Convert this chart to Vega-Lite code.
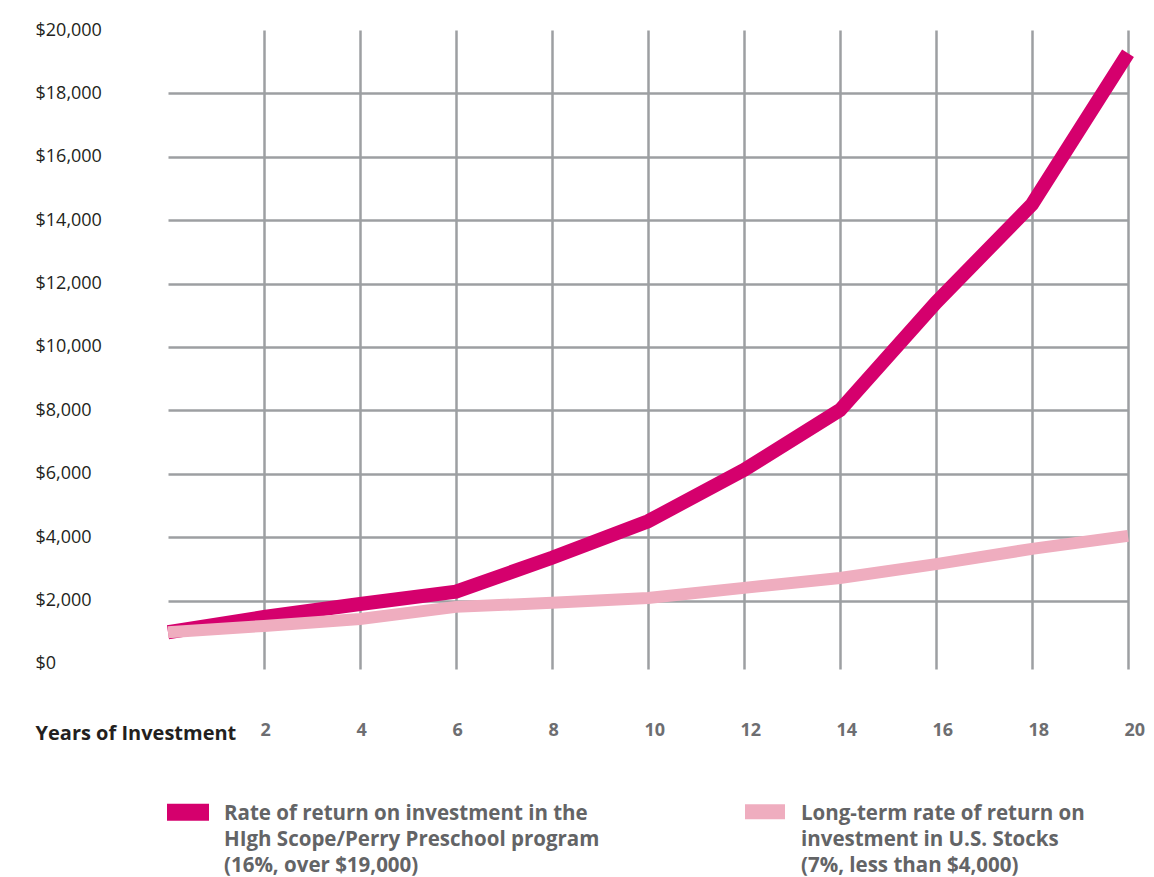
{
  "$schema": "https://vega.github.io/schema/vega-lite/v6.json",
  "autosize": "none",
  "padding": {"left": 168, "top": 30, "right": 26, "bottom": 208},
  "width": 960,
  "height": 639,
  "background": "white",
  "config": {"view": {"stroke": null}, "font": "Open Sans"},
  "data": {"values": [
    {"year": 0, "value": 1000, "series": "program"},
    {"year": 2, "value": 1480, "series": "program"},
    {"year": 4, "value": 1890, "series": "program"},
    {"year": 6, "value": 2280, "series": "program"},
    {"year": 8, "value": 3350, "series": "program"},
    {"year": 10, "value": 4500, "series": "program"},
    {"year": 12, "value": 6120, "series": "program"},
    {"year": 14, "value": 8010, "series": "program"},
    {"year": 16, "value": 11400, "series": "program"},
    {"year": 18, "value": 14500, "series": "program"},
    {"year": 20, "value": 19270, "series": "program"},
    {"year": 0, "value": 1000, "series": "stocks"},
    {"year": 2, "value": 1200, "series": "stocks"},
    {"year": 4, "value": 1420, "series": "stocks"},
    {"year": 6, "value": 1800, "series": "stocks"},
    {"year": 8, "value": 1930, "series": "stocks"},
    {"year": 10, "value": 2080, "series": "stocks"},
    {"year": 12, "value": 2400, "series": "stocks"},
    {"year": 14, "value": 2710, "series": "stocks"},
    {"year": 16, "value": 3150, "series": "stocks"},
    {"year": 18, "value": 3630, "series": "stocks"},
    {"year": 20, "value": 4040, "series": "stocks"}
  ]},
  "mark": {"type": "line", "strokeCap": "butt", "strokeJoin": "miter"},
  "encoding": {
    "x": {
      "field": "year", "type": "quantitative",
      "scale": {"domain": [0, 20], "nice": false, "zero": false},
      "axis": {
        "values": [2, 4, 6, 8, 10, 12, 14, 16, 18, 20],
        "domain": false, "ticks": false, "tickSize": 0,
        "grid": true, "gridColor": "#9d9fa2", "gridWidth": 2.5, "gridOpacity": 1,
        "labelFont": "Open Sans", "labelFontSize": 18, "labelFontWeight": "bold",
        "labelColor": "#6d6e71", "labelPadding": 61, "labelBaseline": "middle",
        "labelAlign": "left", "labelFlush": false, "labelBound": false, "labelOverlap": false,
        "labelOffset": -4,
        "title": "Years of Investment",
        "titleFont": "Open Sans", "titleFontSize": 20, "titleFontWeight": "bold",
        "titleColor": "#231f20", "titleX": -133, "titleY": 64,
        "titleAlign": "left", "titleAnchor": "start", "titleBaseline": "middle"
      }
    },
    "y": {
      "field": "value", "type": "quantitative",
      "scale": {"domain": [-160, 20000], "nice": false, "zero": false},
      "axis": {
        "values": [0, 2000, 4000, 6000, 8000, 10000, 12000, 14000, 16000, 18000, 20000],
        "format": "$,d",
        "domain": false, "ticks": false, "tickSize": 0,
        "grid": true, "gridColor": "#9d9fa2", "gridWidth": 2.5,
        "gridOpacity": {"condition": {"test": "datum.value == 0 || datum.value == 20000", "value": 0}, "value": 1},
        "labelFont": "Open Sans", "labelFontSize": 18, "labelColor": "#231f20",
        "labelAlign": "left", "labelPadding": 133, "labelBaseline": "middle",
        "labelFlush": false, "labelBound": false, "labelOverlap": false,
        "title": null
      }
    },
    "color": {
      "field": "series", "type": "nominal",
      "scale": {"domain": ["program", "stocks"], "range": ["#d5006d", "#efadbf"]},
      "legend": {
        "orient": "none", "direction": "horizontal", "columns": 2,
        "legendX": -1, "legendY": 761, "padding": 0,
        "title": null,
        "symbolType": "M-1,-0.1H1V0.1H-1Z", "symbolSize": 784,
        "labelExpr": "datum.value == 'program' ? ['Rate of return on investment in the', 'HIgh Scope/Perry Preschool program', '(16%, over $19,000)'] : ['Long-term rate of return on', 'investment in U.S. Stocks', '(7%, less than $4,000)']",
        "labelFont": "Open Sans", "labelFontSize": 20.5, "labelFontWeight": "bold",
        "labelColor": "#636466", "labelLimit": 600, "labelOffset": 15,
        "labelBaseline": "top",
        "columnPadding": 127,
        "encode": {
          "symbols": {"update": {"fill": {"scale": "color", "field": "value"}, "opacity": {"value": 1}}},
          "labels": {"update": {"lineHeight": {"value": 26}, "dy": {"value": -8}}}
        }
      }
    },
    "strokeWidth": {
      "field": "series", "type": "nominal",
      "scale": {"domain": ["program", "stocks"], "range": [14, 12]},
      "legend": null
    },
    "order": {"field": "year", "type": "quantitative"}
  }
}
